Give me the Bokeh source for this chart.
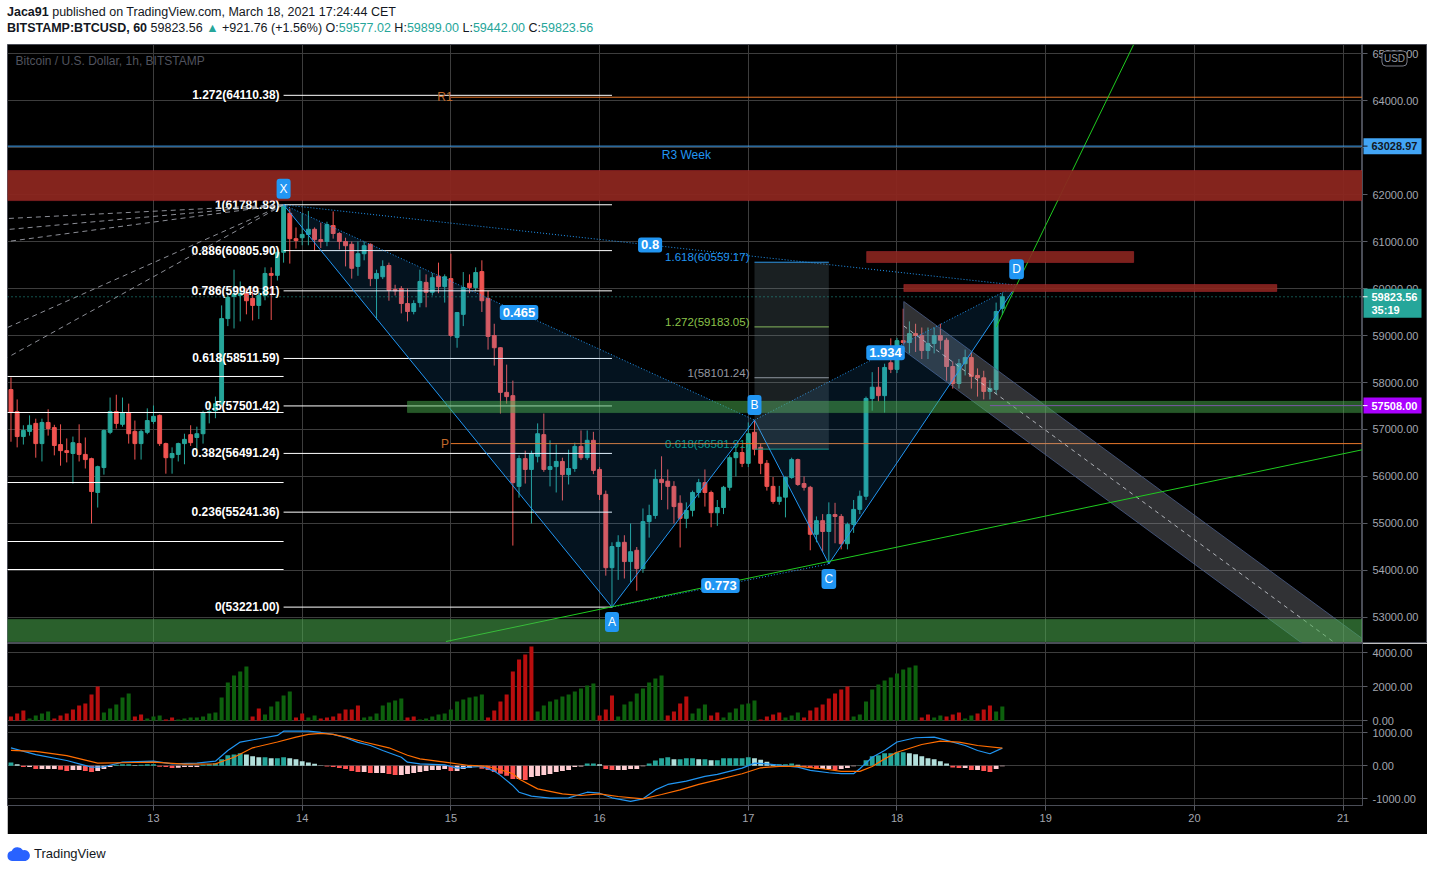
from bokeh.plotting import figure
from bokeh.models import (FixedTicker, Label, Div, Range1d, Span, BoxAnnotation, Spacer)
from bokeh.layouts import column, row
from bokeh.embed import file_html
from bokeh.resources import INLINE
from bokeh.core.properties import value

# ------------------------------------------------------------------ data
# hourly candles, BITSTAMP BTCUSD, from Mar 12 01:00 to Mar 18 17:00
opens = [57850,57380,56850,56960,57130,56700,57150,57040,56680,56550,
         56490,56700,56470,56380,55660,56190,56940,57380,57110,57360,
         56960,56700,56940,57170,57300,56700,56400,56470,56700,56890,
         56830,56910,57360,57400,57550,59360,59830,59850,59890,59790,
         59640,59850,60320,60280,60770,61600,61060,61080,61150,61260,
         61040,61000,61340,61170,61000,60940,60470,60740,60940,60210,
         60250,60490,59980,60000,59680,59510,59700,60130,59920,60260,
         60040,60210,58960,59450,60110,60020,60360,59790,59000,58740,
         57790,57720,55790,56380,56150,56430,56890,56150,56210,56320,
         56040,56170,56640,56400,56770,56150,55620,54060,54510,54600,
         54190,54430,54040,55040,55170,55940,55900,55790,55430,55110,
         55280,55660,55870,55660,55230,55340,55770,56400,56510,56280,
         56940,56620,56280,55790,55470,55560,55980,56360,55850,55770,
         54770,55060,54830,55190,55150,54570,54980,55300,55580,57660,
         57900,57720,58420,58280,58890,58850,59040,59000,58680,58830,
         59000,58900,58340,57980,58400,58530,58150,58100,57810,57850,
         59577.02]
highs = [58110,57640,57090,57300,57230,57230,57430,57100,57110,56810,
         56850,57110,56830,56400,56230,57000,57680,57740,57680,57550,
         57190,57000,57450,57510,57320,56720,56620,56720,56910,57090,
         57060,57400,57570,57700,59640,59900,60400,60150,60000,59960,
         59950,60450,60450,60850,61782,61700,61300,61600,61650,61300,
         61400,61420,61640,61200,61080,61000,61000,61000,60960,60400,
         60600,60550,60080,60050,60000,59750,60400,60300,60330,60550,
         60300,60740,59500,60350,60300,60450,60600,59950,59250,58750,
         58380,58040,56450,56550,56550,57130,57340,56770,56680,56400,
         56570,56720,56980,56980,56950,56200,55700,54600,54750,54750,
         55000,54500,55320,55400,56150,56430,56150,55900,55600,55450,
         55700,55950,56150,55700,55500,55800,56450,56700,56650,57150,
         57200,56700,56350,55990,55800,56000,56400,56380,56000,55800,
         55150,55200,55450,55440,55200,55020,55500,55700,57700,58220,
         58330,58400,58940,58950,59570,59300,59250,59170,59170,59170,
         59250,58950,58450,58500,58700,58640,58300,58250,58050,59700,
         59899]
lows = [56740,56620,56680,56870,56400,56320,56870,56450,56230,56300,
        55850,56320,56170,55000,55340,56040,56900,57020,57060,56700,
        56360,56360,56900,57120,56650,56060,56060,56320,56260,56650,
        56550,56700,57130,57240,57480,59200,59150,59300,59450,59320,
        59350,59750,59330,60170,60550,60530,60850,60920,60920,60800,
        60860,60900,61060,60830,60470,60210,60270,60600,60050,59340,
        60200,59740,59850,59470,59300,59450,59600,59600,59850,59900,
        59700,58970,58740,59200,59900,59950,59500,58700,58360,57340,
        57550,54530,55550,55850,55000,56300,56100,55790,55660,55490,
        55830,56100,56350,56350,56050,55500,53890,53221,53800,53830,
        53750,53570,53950,54700,55100,55500,55300,55000,54490,54900,
        55150,55550,55360,54920,54950,55200,55700,56000,56200,56200,
        56450,56050,55700,55420,55400,55130,55950,55800,55700,54430,
        54600,54400,54140,54580,54450,54450,54800,55200,55500,57400,
        57600,57360,58200,58200,58800,58620,58650,58500,58500,58620,
        58700,58040,57870,57870,58150,57870,57700,57640,57640,57750,
        59442]
closes = [57360,56850,56980,57090,56700,57150,57020,56660,56550,56510,
          56720,56470,56360,55680,56210,56980,57380,57130,57360,56910,
          56700,56960,57190,57280,56700,56400,56490,56700,56790,56720,
          56910,57360,57380,57550,59360,59810,59880,59900,59740,59640,
          59850,60320,60280,60770,61770,61060,61020,61150,61260,61040,
          61000,61360,61170,61000,60910,60430,60740,60910,60210,60320,
          60470,59960,59950,59680,59510,59680,60150,59920,60230,60040,
          60250,59000,59490,60020,60020,60340,59740,58980,58740,57790,
          57700,55870,56380,56150,56490,56910,56150,56210,56320,56040,
          56170,56640,56400,56770,56130,55620,54060,54510,54600,54190,
          54400,54040,55040,55170,55940,55870,55790,55360,55110,55280,
          55660,55870,55660,55230,55340,55770,56400,56510,56280,56910,
          56580,56280,55790,55470,55560,55980,56360,55830,55770,54770,
          55060,54830,55190,55150,54570,54980,55300,55580,57660,57900,
          57720,58320,58280,58890,58850,59040,59000,58680,58830,59000,
          58900,58340,57980,58400,58530,58130,58100,57810,57870,59510,
          59823.56]
volumes = [255,430,610,140,310,430,550,140,310,430,
           670,900,1020,1550,2020,490,725,960,1370,1610,
           255,370,140,255,310,80,200,80,140,200,
           200,255,430,490,1370,2250,2670,2900,3200,255,
           725,370,840,1140,1490,1720,200,430,200,310,
           140,200,255,430,670,670,900,200,255,430,
           900,1080,1200,1310,200,255,80,140,255,370,
           430,670,1140,1250,1370,1430,1550,200,610,1140,
           1550,2900,3600,3900,4370,550,900,1140,1250,1430,
           1550,1720,1900,2080,2200,310,670,1490,255,960,
           1140,1610,1900,2250,2490,2670,310,550,1020,1430,
           430,725,960,310,490,200,490,725,960,1020,
           1200,80,255,370,490,200,310,490,200,610,
           780,960,1310,1610,1840,2020,255,370,1140,1840,
           2140,2370,2550,2780,3020,3140,3250,200,370,200,
           310,255,370,490,140,310,430,670,900,550,
           840]
vol_dir = "".join(["RRR", "GGGG", "RRRRRRRR", "GGGGG", "RR", "GGG", "RR",
                   "GGGGGGGGGGGG", "RR", "GGGGG", "RR", "GG", "RRRRRRR",
                   "GGGGGGG", "RR", "GGGGGGGGGGG", "RRRRRRRR", "GGGGGGGGGG",
                   "RRR", "GGGGGGGG", "RRRR", "GGG", "RR", "GGGGGG", "RRRR",
                   "GGG", "RRRRRRRR", "GGGGGGGGGGG", "RR", "GG", "RRR", "GG",
                   "RRR", "GG"])
macd_hist = [100,50,-40,-40,-100,-100,-100,-100,-120,-160,
             -130,-130,-160,-190,-160,-100,-40,30,50,50,
             20,30,50,50,-30,-40,-70,-60,-40,-40,
             -40,30,50,80,200,320,340,380,340,290,
             260,260,230,230,260,230,200,140,100,60,
             10,-20,-40,-70,-100,-160,-190,-190,-220,-220,
             -220,-250,-280,-280,-250,-220,-190,-160,-130,-130,
             -100,-160,-160,-100,-70,-10,-90,-130,-190,-240,
             -300,-400,-400,-430,-340,-310,-280,-250,-190,-160,
             -130,-40,-20,70,70,50,-100,-130,-130,-130,
             -100,-100,-10,70,160,230,260,200,200,230,
             230,200,200,170,170,230,230,230,230,260,
             230,180,120,50,50,50,70,30,-40,-70,
             -100,-100,-100,-130,-100,-70,-10,10,170,290,
             320,380,380,410,410,380,350,290,230,200,
             140,70,-50,-70,-70,-130,-130,-160,-190,-100,
             -10]
macd_idx = [0,4,9,13,15,18,23,26,30,33,35,37,40,43,44,48,50,52,54,56,58,60,63,64,
            66,70,72,74,76,78,79,81,82,84,87,90,93,95,97,100,102,104,106,109,112,
            114,118,120,122,125,127,129,132,134,136,137,139,141,143,146,149,151,
            154,156,158,160]
macd_val = [545,340,160,-40,-30,110,140,60,80,140,465,720,820,920,1050,1050,1010,
            950,850,710,615,465,260,110,60,30,-70,-40,-20,-160,-290,-600,-800,-920,
            -980,-970,-800,-830,-970,-1080,-1000,-730,-565,-465,-320,-260,-70,80,60,
            0,-40,-140,-210,-240,-240,-90,260,465,720,850,870,770,615,465,365,535]
sig_idx = [0,4,9,14,20,23,28,33,36,39,43,46,48,50,52,54,57,61,64,66,70,74,77,79,
           81,82,85,89,92,95,98,102,105,108,111,114,118,121,124,127,131,134,137,
           139,141,143,147,150,153,156,160]
sig_val = [465,435,310,80,100,110,50,60,260,545,720,870,950,980,950,870,720,545,
           320,210,110,10,-20,-120,-240,-400,-700,-850,-900,-850,-930,-1000,-870,
           -730,-565,-425,-240,-60,-20,-20,-90,-170,-170,-20,210,410,645,750,720,
           615,535]

day_ticks = [24, 48, 72, 96, 120, 144, 168, 192, 216]          # hours from Mar 12 00:00
day_labels = ["13", "14", "15", "16", "17", "18", "19", "20", "21"]
price_ticks = [53000, 54000, 55000, 56000, 57000, 58000, 59000, 60000,
               61000, 62000, 63000, 64000, 65000]
vol_ticks = [0, 2000, 4000]
macd_ticks = [-1000, 0, 1000]

fib_ratios = ["1.272", "1", "0.886", "0.786", "0.618", "0.5", "0.382", "0.236", "0"]
fib_prices = [64110.38, 61781.83, 60805.90, 59949.81, 58511.59, 57501.42,
              56491.24, 55241.36, 53221.00]
old_fib_prices = [58128, 57362, 55872, 54617, 54021]
ext_ratios = ["1.618", "1.272", "1", "0.618"]
ext_prices = [60559.17, 59183.05, 58101.24, 56581.91]

pat_names = ["X", "A", "B", "C", "D"]
pat_hours = [45, 98, 121, 133, 163.3]
pat_prices = [61781.83, 53221.00, 57201.0, 54140.0, 60070.0]
pat_ratios = ["0.465", "0.773", "1.934", "0.8"]
pat_ratio_pairs = [(0, 2), (1, 3), (2, 4), (0, 4)]

fan_prices = [61489, 61255, 61000, 59170, 58532]   # left-edge ends of the fan from X

red_band = (61870, 62510)
green_band_low = (52490, 52960)
green_band_mid = (57360, 57600)
green_mid_start = 65
red_box1 = (139.1, 182.2, 60553, 60787)
red_box2 = (145.1, 205.3, 59936, 60085)
r3_week = 63028.97
pivot_r1 = 64070
pivot_p = 56700
pivot_start = 72
support_level = 57508.00
support_start = 159
last_price = 59823.56
countdown = "35:19"
trend_up = ([71.2, 219.3], [52489, 56574])
trend_steep = ([160.0, 182.2], [59177, 65191])
channel_hours = [145.1, 219.3]
channel_top = [59723, 52532]
channel_bottom = [58681, 51491]

# ------------------------------------------------------------------ style
FONT = "Liberation Sans"
BG = "#000000"
GRID = "#3d3d3d"
EDGE = "#4a4d57"
TICK = "#5a5d66"
AXIS_TXT = "#A3A6AF"
UP, DOWN = "#26A69A", "#EF5350"
BLUE = "#2196F3"

N = len(closes)
hours = [i + 1 for i in range(N)]
X_START, X_END = 0.44, 219.13
FRAME_W, AXIS_W = 1355, 65
PRICE_H = 599
P_LO, P_HI = 52446.8, 65191.5
ppp = (P_HI - P_LO) / PRICE_H                       # price per pixel
# volume + MACD share one frame (162 px): MACD scale is the primary range
SUB_H = 162
M_LO, M_HI = -1203, 3706
VR_LO, VR_HI = -4982, 4547

xr = Range1d(X_START, X_END)
pr = Range1d(P_LO, P_HI)


def dark_fig(fw, fh, x_range, y_range, **kw):
    f = figure(frame_width=fw, frame_height=fh, x_range=x_range, y_range=y_range,
               output_backend="svg", toolbar_location=None,
               background_fill_color=BG, border_fill_color=BG,
               outline_line_color=EDGE, **kw)
    return f


# ------------------------------------------------------------------ price panel
p = dark_fig(FRAME_W, PRICE_H, xr, pr, min_border_left=0, min_border_right=0,
             min_border_top=0, min_border_bottom=0)
p.xaxis.visible = False
p.yaxis.visible = False
p.xgrid.ticker = FixedTicker(ticks=day_ticks)
p.ygrid.ticker = FixedTicker(ticks=price_ticks)
p.xgrid.grid_line_color = GRID
p.ygrid.grid_line_color = GRID

ccol = [UP if c >= o else DOWN for o, c in zip(opens, closes)]
p.segment(x0=hours, y0=lows, x1=hours, y1=highs, line_color=ccol, line_width=1)
p.vbar(x=hours, width=0.62, top=[max(o, c) for o, c in zip(opens, closes)],
       bottom=[min(o, c) for o, c in zip(opens, closes)],
       fill_color=ccol, line_color=ccol, line_width=1)

# bands
p.add_layout(BoxAnnotation(bottom=red_band[0], top=red_band[1], fill_color="#8B261F",
                           fill_alpha=0.95, line_color="#F23645", line_width=1))
p.add_layout(BoxAnnotation(bottom=green_band_low[0], top=green_band_low[1],
                           fill_color="#4CAF50", fill_alpha=0.55, line_color="#4CAF50"))
p.add_layout(BoxAnnotation(left=green_mid_start, bottom=green_band_mid[0],
                           top=green_band_mid[1], fill_color="#4CAF50", fill_alpha=0.5,
                           line_color="#4CAF50"))
for b in (red_box1, red_box2):
    p.add_layout(BoxAnnotation(left=b[0], right=b[1], bottom=b[2], top=b[3],
                               fill_color="#8B261F", fill_alpha=0.9,
                               line_color="#F23645", line_width=1))

# fib extension box & levels
ext_colors = ["#2196F3", "#8BC34A", "#9598A1", "#089981"]
p.add_layout(BoxAnnotation(left=pat_hours[2], right=pat_hours[3], bottom=ext_prices[3],
                           top=ext_prices[0], fill_color="#78909C", fill_alpha=0.22,
                           line_alpha=0))
p.segment(x0=[pat_hours[2]] * 4, x1=[pat_hours[3]] * 4, y0=ext_prices, y1=ext_prices,
          line_color=ext_colors, line_width=1)
p.text(x=[pat_hours[2]] * 4, y=ext_prices,
       text=[f"{r}({v:.2f})" for r, v in zip(ext_ratios, ext_prices)],
       text_color=ext_colors, text_align="right", text_baseline="bottom",
       x_offset=-5, y_offset=1, text_font=value(FONT), text_font_size="11.5px")

# main fib retracement
p.segment(x0=[pat_hours[0]] * len(fib_prices), x1=[pat_hours[1]] * len(fib_prices),
          y0=fib_prices, y1=fib_prices, line_color="#FFFFFF", line_width=1)
p.text(x=[pat_hours[0]] * len(fib_prices), y=fib_prices,
       text=[f"{r}({v:.2f})" for r, v in zip(fib_ratios, fib_prices)],
       text_color="#FFFFFF", text_align="right", text_baseline="middle", x_offset=-4,
       text_font=value(FONT), text_font_size="12px", text_font_style="bold")
p.segment(x0=[-5] * len(old_fib_prices), x1=[pat_hours[0]] * len(old_fib_prices),
          y0=old_fib_prices, y1=old_fib_prices, line_color="#FFFFFF", line_width=1)

# fan lines from X to the left
p.segment(x0=[pat_hours[0]] * len(fan_prices), y0=[pat_prices[0]] * len(fan_prices),
          x1=[X_START] * len(fan_prices), y1=fan_prices, line_color="#A3A6AF",
          line_dash="5 4", line_width=1, line_alpha=0.85)

# pivots
p.segment(x0=[pivot_start] * 2, x1=[X_END + 5] * 2, y0=[pivot_r1, pivot_p],
          y1=[pivot_r1, pivot_p], line_color="#E8782A", line_width=1)
p.text(x=[pivot_start] * 2, y=[pivot_r1, pivot_p], text=["R1", "P"],
       text_color="#C0692A", text_align="center", text_baseline="middle", x_offset=-6,
       text_font=value(FONT), text_font_size="12px")

# descending channel
p.patch(x=[channel_hours[0], channel_hours[1], channel_hours[1], channel_hours[0]],
        y=[channel_top[0], channel_top[1], channel_bottom[1], channel_bottom[0]],
        fill_color="#9598A1", fill_alpha=0.33, line_color="#4A5C88", line_alpha=0.8,
        line_width=1)
p.line(x=channel_hours, y=[(a + b) / 2 for a, b in zip(channel_top, channel_bottom)],
       line_color="#D0D3DA", line_dash="4 4", line_width=1, line_alpha=0.8)

# harmonic pattern
p.patch(x=pat_hours[0:3], y=pat_prices[0:3], fill_color=BLUE, fill_alpha=0.13,
        line_alpha=0)
p.patch(x=pat_hours[2:5], y=pat_prices[2:5], fill_color=BLUE, fill_alpha=0.13,
        line_alpha=0)
p.line(x=pat_hours, y=pat_prices, line_color=BLUE, line_width=1)
p.segment(x0=[pat_hours[a] for a, b in pat_ratio_pairs],
          y0=[pat_prices[a] for a, b in pat_ratio_pairs],
          x1=[pat_hours[b] for a, b in pat_ratio_pairs],
          y1=[pat_prices[b] for a, b in pat_ratio_pairs],
          line_color=BLUE, line_dash="1 2", line_width=1)

# trend lines
p.line(x=trend_up[0], y=trend_up[1], line_color="#1FCB1F", line_width=1)
p.line(x=trend_steep[0], y=trend_steep[1], line_color="#1FCB1F", line_width=1)

# horizontal lines
p.add_layout(Span(location=r3_week, dimension="width", line_color="#42A5F5", line_width=1))
p.add_layout(Span(location=last_price, dimension="width", line_color=UP,
                  line_dash="1 3", line_width=1))
p.segment(x0=[support_start], x1=[X_END + 5], y0=[support_level], y1=[support_level],
          line_color="#AA00FF", line_width=1)
p.text(x=[110], y=[r3_week], text=["R3 Week"], text_color="#2196F3", text_align="center",
       text_baseline="top", y_offset=2, text_font=value(FONT), text_font_size="12px")

# pattern labels
for (a, b), r in zip(pat_ratio_pairs, pat_ratios):
    p.add_layout(Label(x=(pat_hours[a] + pat_hours[b]) / 2,
                       y=(pat_prices[a] + pat_prices[b]) / 2, text=r,
                       text_align="center", text_baseline="middle", text_color="white",
                       text_font=FONT, text_font_size="13px", text_font_style="bold",
                       background_fill_color=BLUE, padding=3, border_radius=3))
letter_off = [16, -15, 15, -15, 16]
for n, h, prc, off in zip(pat_names, pat_hours, pat_prices, letter_off):
    p.add_layout(Label(x=h, y=prc, y_offset=off, text=n, text_align="center",
                       text_baseline="middle", text_color="white", text_font=FONT,
                       text_font_size="12px", background_fill_color=BLUE,
                       padding=3, border_radius=3))

p.add_layout(Label(x=8, x_units="screen", y=P_HI - 16 * ppp,
                   text="Bitcoin / U.S. Dollar, 1h, BITSTAMP", text_baseline="middle",
                   text_color="#50535E", text_font=FONT, text_font_size="12px"))

# ------------------------------------------------------------------ price scale column
pax = dark_fig(AXIS_W, PRICE_H, Range1d(0, AXIS_W), pr, min_border_left=0,
               min_border_right=0, min_border_top=0, min_border_bottom=0)
pax.xaxis.visible = False
pax.yaxis.visible = False
pax.grid.visible = False
pax.segment(x0=[0] * len(price_ticks), x1=[5] * len(price_ticks), y0=price_ticks,
            y1=price_ticks, line_color=TICK, line_width=1)
pax.text(x=[10] * len(price_ticks), y=price_ticks,
         text=[f"{t:.2f}" for t in price_ticks], text_color=AXIS_TXT,
         text_baseline="middle", text_font=value(FONT), text_font_size="11px")
tags = [(r3_week, "#42A5F5", "#131722", 8), (last_price, UP, "#FFFFFF", 21),
        (support_level, "#AA00FF", "#FFFFFF", 8)]
for lv, bgc, tc, below in tags:
    pax.quad(left=[1], right=[59], top=[lv + 8 * ppp], bottom=[lv - below * ppp],
             fill_color=bgc, line_color=None)
    pax.segment(x0=[0], x1=[5], y0=[lv], y1=[lv], line_color=tc)
    pax.text(x=[9], y=[lv], text=[f"{lv:.2f}"], text_color=tc, text_baseline="middle",
             text_font=value(FONT), text_font_size="11px", text_font_style="bold")
pax.text(x=[9], y=[last_price - 13 * ppp], text=[countdown], text_color="#FFFFFF",
         text_baseline="middle", text_font=value(FONT), text_font_size="11px",
         text_font_style="bold")
pax.add_layout(Label(x=32, y=P_HI - 14 * ppp, text="USD", text_align="center",
                     text_baseline="middle", text_color="#9598A1", text_font=FONT,
                     text_font_size="10px", background_fill_color=BG,
                     border_line_color="#787B86", padding=2, border_radius=4))

# ------------------------------------------------------------------ volume + MACD panel
def vol_to_macd(v):
    return M_LO + (v - VR_LO) * (M_HI - M_LO) / (VR_HI - VR_LO)


sub_ticks = [round(vol_to_macd(v)) for v in vol_ticks] + macd_ticks
sub_labels = [f"{v:.2f}" for v in vol_ticks] + [f"{m:.2f}" for m in macd_ticks]

pm = dark_fig(FRAME_W, SUB_H, xr, Range1d(M_LO, M_HI), y_axis_location="right",
              min_border_left=0, min_border_right=AXIS_W, min_border_top=0,
              min_border_bottom=29)
pm.extra_y_ranges = {"vol": Range1d(VR_LO, VR_HI)}
ya = pm.yaxis[0]
ya.ticker = FixedTicker(ticks=sub_ticks)
ya.major_label_overrides = {t: l for t, l in zip(sub_ticks, sub_labels)}
xa = pm.xaxis[0]
xa.ticker = FixedTicker(ticks=day_ticks)
xa.major_label_overrides = {t: l for t, l in zip(day_ticks, day_labels)}
for ax in (ya, xa):
    ax.major_label_text_font = FONT
    ax.major_label_text_font_size = "11px"
    ax.major_label_text_color = AXIS_TXT
    ax.axis_line_color = EDGE
    ax.major_tick_line_color = TICK
    ax.major_tick_out = 5
    ax.major_tick_in = 0
    ax.minor_tick_line_color = None
ya.major_label_standoff = 5
xa.major_label_standoff = 3
pm.xgrid.ticker = FixedTicker(ticks=day_ticks)
pm.ygrid.ticker = FixedTicker(ticks=sub_ticks)
pm.xgrid.grid_line_color = GRID
pm.ygrid.grid_line_color = GRID

vcol = ["#0D600D" if d == "G" else "#B80E0E" for d in vol_dir[:len(volumes)]]
pm.vbar(x=hours[:len(volumes)], top=volumes, bottom=0, width=0.65,
        fill_color=vcol, line_color=None, y_range_name="vol")
pm.add_layout(Span(location=M_LO + (SUB_H - 82) / SUB_H * (M_HI - M_LO),
                   dimension="width", line_color=EDGE, line_width=1))

hcol = []
for i, hv in enumerate(macd_hist):
    prev = macd_hist[i - 1] if i > 0 else hv
    if hv >= 0:
        hcol.append("#26A69A" if hv >= prev else "#B2DFDB")
    else:
        hcol.append("#FF5252" if hv < prev else "#FFCDD2")
pm.vbar(x=hours[:len(macd_hist)], top=macd_hist, bottom=0, width=0.78,
        fill_color=hcol, line_color=None)
pm.line(x=[i + 1 for i in macd_idx], y=macd_val, line_color="#2196F3", line_width=1.2)
pm.line(x=[i + 1 for i in sig_idx], y=sig_val, line_color="#FF6D00", line_width=1.2)

# ------------------------------------------------------------------ header / footer
teal = '<span style="color:#26a69a">'
header = Div(width=FRAME_W + AXIS_W, height=44, margin=0, text=(
    '<div style="font-family:\'Liberation Sans\',Arial,sans-serif;font-size:12.5px;'
    'color:#131722;line-height:16px;padding-top:4px;white-space:nowrap">'
    '<b>Jaca91</b> published on TradingView.com, March 18, 2021 17:24:44 CET<br>'
    '<b>BITSTAMP:BTCUSD, 60</b> 59823.56 ' + teal + '&#9650;</span> +921.76 (+1.56%) '
    'O:' + teal + '59577.02</span> H:' + teal + '59899.00</span> L:' + teal +
    '59442.00</span> C:' + teal + '59823.56</span></div>'))
footer = Div(width=400, height=30, margin=0, text=(
    '<div style="display:flex;align-items:center;margin-top:11px;'
    'font-family:\'Liberation Sans\',Arial,sans-serif;font-size:13px;color:#131722">'
    '<svg width="24" height="14" viewBox="0 0 24 14" style="margin-right:3px">'
    '<path d="M5 14 A5 5 0 0 1 4.6 4.1 A6.5 6.5 0 0 1 16 3.2 A5.4 5.4 0 0 1 18.6 14 Z" '
    'fill="#2962FF"/></svg>TradingView</div>'))

chart = column(header, row(p, pax), pm, footer)
layout = row(Spacer(width=7, height=10), chart)
open("out.html", "w").write(file_html(layout, INLINE))
